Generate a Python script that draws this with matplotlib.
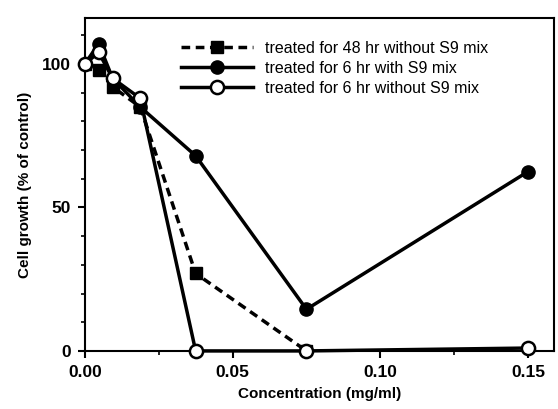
import matplotlib.pyplot as plt
from matplotlib.ticker import MultipleLocator

plt.rcParams['font.family'] = ['Liberation Sans', 'DejaVu Sans']

# concentration (mg/ml) and cell growth (% of control)
conc_48h = [0.0, 0.0047, 0.0094, 0.01875, 0.0375, 0.075]
growth_48h = [100, 98, 92, 85, 27, 0]

conc_s9 = [0.0, 0.0047, 0.0094, 0.01875, 0.0375, 0.075, 0.15]
growth_s9 = [100, 107, 95, 85, 68, 14.5, 62.5]

conc_nos9 = [0.0, 0.0047, 0.0094, 0.01875, 0.0375, 0.075, 0.15]
growth_nos9 = [100, 104, 95, 88, 0, 0, 1]

labels = ["treated for 48 hr without S9 mix",
          "treated for 6 hr with S9 mix",
          "treated for 6 hr without S9 mix"]

fig = plt.figure(figsize=(5.58, 4.09), dpi=100)
ax = fig.add_axes([0.152, 0.142, 0.841, 0.814])

ax.plot(conc_48h, growth_48h, color='black', lw=2.5, dashes=(2.5, 1.6),
        marker='s', ms=8, mfc='black', mec='black', label=labels[0], zorder=3)
ax.plot(conc_s9, growth_s9, color='black', lw=2.5,
        marker='o', ms=9.5, mfc='black', mec='black', label=labels[1], zorder=4)
ax.plot(conc_nos9, growth_nos9, color='black', lw=2.5,
        marker='o', ms=9.5, mfc='white', mec='black', mew=1.8, label=labels[2],
        zorder=5, clip_on=False)

ax.set_xlim(0, 0.1588)
ax.set_ylim(0, 116)
ax.xaxis.set_major_locator(MultipleLocator(0.05))
ax.xaxis.set_minor_locator(MultipleLocator(0.025))
ax.yaxis.set_major_locator(MultipleLocator(50))
ax.yaxis.set_minor_locator(MultipleLocator(10))
ax.xaxis.set_major_formatter(plt.FormatStrFormatter('%.2f'))

ax.tick_params(which='major', direction='out', length=5, width=1.5,
               labelsize=12.5, pad=5)
ax.tick_params(which='minor', direction='out', length=3, width=1.2)
for lab in ax.get_xticklabels() + ax.get_yticklabels():
    lab.set_fontweight('bold')
for sp in ax.spines.values():
    sp.set_linewidth(1.5)

ax.set_xlabel("Concentration (mg/ml)", fontsize=11, fontweight='bold', labelpad=5)
ax.set_ylabel("Cell growth (% of control)", fontsize=11, fontweight='bold', labelpad=7)

ax.legend(loc='upper left', bbox_to_anchor=(0.298, 0.935), bbox_transform=fig.transFigure,
          frameon=False, fontsize=11.5, handlelength=4.5, handletextpad=0.8,
          labelspacing=0.3, numpoints=1)

fig.savefig("out.png", dpi=100)
